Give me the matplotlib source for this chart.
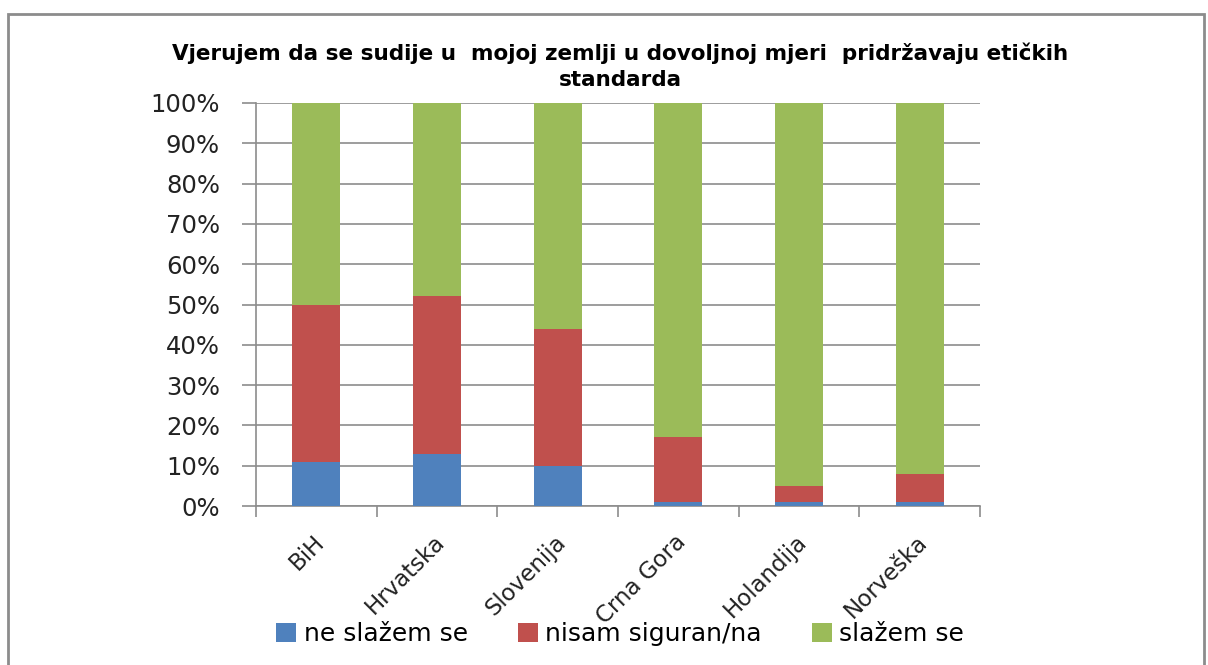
import numpy as np
import matplotlib.pyplot as plt
from matplotlib.patches import Rectangle

countries = ["BiH", "Hrvatska", "Slovenija", "Crna Gora", "Holandija", "Norveška"]
ne_slazem = [11, 13, 10, 1, 1, 1]
nisam_siguran = [39, 39, 34, 16, 4, 7]
slazem = [50, 48, 56, 83, 95, 92]

series_names = ["ne slažem se", "nisam siguran/na", "slažem se"]
colors = ["#4f81bd", "#c0504d", "#9bbb59"]

fig = plt.figure(figsize=(12.08, 6.65), dpi=100)
fig.patches.append(Rectangle((8 / 1208, -0.01), 1196 / 1208, 1 - 14 / 665 + 0.01,
                             transform=fig.transFigure, fill=False,
                             edgecolor="#8c8c8c", linewidth=2))

ax = fig.add_axes([256 / 1208, 1 - 506 / 665, 724 / 1208, 403 / 665])

x = np.arange(len(countries))
bottom = np.zeros(len(countries))
for vals, name, col in zip([ne_slazem, nisam_siguran, slazem], series_names, colors):
    ax.bar(x, vals, 0.4, bottom=bottom, color=col, label=name, zorder=3)
    bottom += np.array(vals)

ax.set_xlim(-0.5, len(countries) - 0.5)
ax.set_ylim(0, 100)
ax.set_yticks(np.arange(0, 101, 10))
ax.set_yticklabels([f"{v}%" for v in range(0, 101, 10)], fontsize=17.5,
                   family="DejaVu Sans", color="#222222")
ax.yaxis.grid(True, color="#8c8c8c", linewidth=1.2, zorder=0)
ax.tick_params(axis="y", length=10, color="#8c8c8c", width=1.2, pad=16)

ax.set_xticks(np.arange(-0.5, len(countries), 1))
ax.set_xticklabels([])
ax.tick_params(axis="x", length=8, color="#8c8c8c", width=1.2)
for i, c in enumerate(countries):
    ax.text(i - 0.03, -6, c, rotation=45, ha="right", va="top",
            rotation_mode="anchor", fontsize=16.5, family="DejaVu Sans",
            color="#222222", transform=ax.transData)

for side in ["top", "right"]:
    ax.spines[side].set_visible(False)
for side in ["left", "bottom"]:
    ax.spines[side].set_color("#8c8c8c")
    ax.spines[side].set_linewidth(1.2)

fig.text(620 / 1208, 1 - 66 / 665,
         "Vjerujem da se sudije u  mojoj zemlji u dovoljnoj mjeri  pridržavaju etičkih\nstandarda",
         ha="center", va="center", fontsize=15.5, fontweight="bold",
         family="DejaVu Sans", linespacing=1.4)

ax.legend(loc="center", bbox_to_anchor=(620 / 1208, 1 - 634 / 665),
          bbox_transform=fig.transFigure, ncol=3, frameon=False,
          prop={"family": "DejaVu Sans", "size": 18},
          handlelength=0.8, handleheight=0.8, handletextpad=0.3, columnspacing=2.0)

fig.savefig("out.png", dpi=100)
